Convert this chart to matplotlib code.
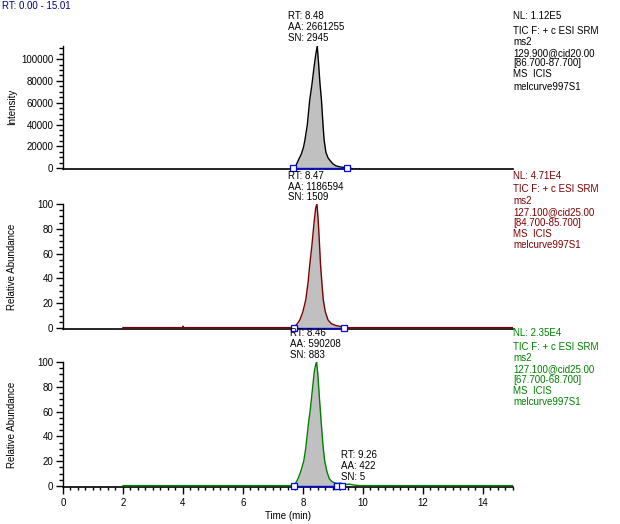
import matplotlib
matplotlib.use("Agg")
import matplotlib.pyplot as plt
from matplotlib.ticker import MultipleLocator, NullLocator
import numpy as np

plt.rcParams['font.family'] = ['Liberation Sans', 'DejaVu Sans']
FS = 7

# ---------------- data ----------------
x_range = (0.0, 15.01)

# panel 1 (absolute intensity)
t1 = [7.60, 7.70, 7.78, 7.85, 7.95, 8.02, 8.07, 8.15, 8.23, 8.30, 8.38, 8.43, 8.48,
      8.52, 8.57, 8.62, 8.67, 8.71, 8.77, 8.84, 8.90, 9.00, 9.10, 9.25, 9.45, 9.60]
i1 = [0, 800, 3000, 7300, 13000, 19000, 25800, 40000, 62700, 76000, 94000, 104000, 112000,
      98000, 78000, 62700, 41000, 25800, 14500, 9500, 7300, 4000, 2200, 1100, 500, 0]
tail1_t = [9.50, 9.90]
tail1_i = [300, 300]
base1 = [(7.66, 9.46)]
nl1 = 112000

# panel 2 (relative abundance)
t2 = [2.0, 3.99, 4.0, 4.01, 7.60, 7.72, 7.80, 7.90, 8.00, 8.10, 8.18, 8.23, 8.30, 8.37,
      8.43, 8.47, 8.51, 8.55, 8.59, 8.64, 8.68, 8.75, 8.84, 8.95, 9.10, 9.30, 9.45, 15.0]
r2 = [0.3, 0.3, 1.5, 0.3, 0.3, 1, 3, 6.5, 13, 23, 38, 51, 66, 84,
      97, 100, 88, 70, 51, 35, 23, 13, 6.5, 3.5, 2, 1, 0.3, 0.3]
base2 = [(7.71, 9.38)]

# panel 3 (relative abundance)
t3 = [2.0, 7.60, 7.70, 7.78, 7.84, 7.92, 8.03, 8.10, 8.18, 8.25, 8.32, 8.38, 8.43, 8.46,
      8.50, 8.55, 8.62, 8.67, 8.73, 8.80, 8.88, 8.95, 9.05, 9.15, 9.26, 9.40, 9.55, 9.70,
      9.90, 15.0]
r3 = [0.3, 0.3, 1, 3, 6, 11, 20, 31, 49, 62, 78, 92, 98, 100,
      90, 72, 49, 33, 20, 12, 6, 4, 2.5, 2, 2.3, 1.2, 1.5, 0.8,
      0.3, 0.3]
base3 = [(7.71, 9.15), (9.15, 9.29)]

peak_labels = [
    ["RT: 8.48", "AA: 2661255", "SN: 2945"],
    ["RT: 8.47", "AA: 1186594", "SN: 1509"],
    ["RT: 8.46", "AA: 590208", "SN: 883"],
]
small_peak_label = ["RT: 9.26", "AA: 422", "SN: 5"]

info_texts = [
    ["NL: 1.12E5", "TIC F: + c ESI SRM", "ms2", "129.900@cid20.00", "[86.700-87.700]",
     "MS  ICIS", "melcurve997S1"],
    ["NL: 4.71E4", "TIC F: + c ESI SRM", "ms2", "127.100@cid25.00", "[84.700-85.700]",
     "MS  ICIS", "melcurve997S1"],
    ["NL: 2.35E4", "TIC F: + c ESI SRM", "ms2", "127.100@cid25.00", "[67.700-68.700]",
     "MS  ICIS", "melcurve997S1"],
]
colors = ["black", "#800000", "#008000"]
ylabels = ["Intensity", "Relative Abundance", "Relative Abundance"]

# ---------------- figure ----------------
W, H = 620, 524
fig = plt.figure(figsize=(W / 100, H / 100), dpi=100)

def px(x, y):
    return x / W, 1 - y / H

def ax_rect(top, bottom):
    return [63 / W, 1 - bottom / H, 450 / W, (bottom - top) / H]

ax1 = fig.add_axes(ax_rect(46, 168.5))
ax2 = fig.add_axes(ax_rect(204, 329))
ax3 = fig.add_axes(ax_rect(362, 487))
axes = [ax1, ax2, ax3]

traces = [(t1, i1, base1), (t2, r2, base2), (t3, r3, base3)]

for k, (ax, (t, y, bases)) in enumerate(zip(axes, traces)):
    t = np.asarray(t, float)
    y = np.asarray(y, float)
    col = colors[k]
    for (a, b) in bases:
        m = (t >= a) & (t <= b)
        tt = np.concatenate([[a], t[m], [b]])
        yy = np.interp(tt, t, y)
        ax.fill_between(tt, 0, yy, color="#c0c0c0", lw=0, zorder=1)
    ax.plot(t, y, color=col, lw=1.0, zorder=3)
    for (a, b) in bases:
        ax.plot([a, b], [0, 0], color="#0000ff", lw=1.0, zorder=4, clip_on=False)
        ax.plot([a, b], [0, 0], ls="none", marker="s", ms=4.5, mfc="white",
                mec="#0000ff", mew=0.9, zorder=5, clip_on=False)
    ax.set_xlim(*x_range)
    for s in ["top", "right"]:
        ax.spines[s].set_visible(False)
    ax.spines["left"].set_linewidth(1.0)
    ax.spines["bottom"].set_linewidth(1.2)
    ax.tick_params(axis="y", which="major", direction="out", length=5, width=1,
                   labelsize=FS, pad=2)
    ax.tick_params(axis="y", which="minor", direction="out", length=3, width=1)
    ax.set_ylabel(ylabels[k], fontsize=FS)
    ax.yaxis.set_label_coords(-46 / 450, 0.5)

ax1.plot(tail1_t, tail1_i, color="black", lw=0.8, ls=(0, (1, 2)), zorder=3)

ax1.set_ylim(-300, nl1)
ax1.yaxis.set_major_locator(MultipleLocator(20000))
ax1.yaxis.set_minor_locator(MultipleLocator(5000))
for ax in (ax2, ax3):
    ax.set_ylim(-0.8, 100)
    ax.yaxis.set_major_locator(MultipleLocator(20))
    ax.yaxis.set_minor_locator(MultipleLocator(5))

for ax in (ax1, ax2):
    ax.xaxis.set_major_locator(NullLocator())
    ax.xaxis.set_minor_locator(NullLocator())

ax3.xaxis.set_major_locator(MultipleLocator(2))
ax3.xaxis.set_minor_locator(MultipleLocator(0.25))
ax3.tick_params(axis="x", which="major", direction="out", length=5, width=1,
                labelsize=FS, pad=3)
ax3.tick_params(axis="x", which="minor", direction="out", length=2.5, width=1)
ax3.set_xlabel("Time (min)", fontsize=FS, labelpad=2)

# ---------------- texts ----------------
fig.text(*px(2, 6), "RT: 0.00 - 15.01", fontsize=FS, color="#000080", va="center", ha="left")

peak_text_pos = [(287.7, [16, 27, 38]), (287.7, [175.7, 186.7, 197.3]), (290, [333.3, 344, 355])]
for k, (x0, ys) in enumerate(peak_text_pos):
    for line, yy in zip(peak_labels[k], ys):
        fig.text(*px(x0, yy), line, fontsize=FS, color="black", va="center", ha="left")

for line, yy in zip(small_peak_label, [455, 466, 477]):
    fig.text(*px(340.7, yy), line, fontsize=FS, color="black", va="center", ha="left")

info_pos = [
    [16, 31, 41.7, 52.7, 63.3, 74, 86.5],
    [175.7, 189, 201, 211.7, 222.7, 233.7, 244.7],
    [333.3, 346.7, 357.7, 369, 380, 391, 402],
]
for k in range(3):
    for line, yy in zip(info_texts[k], info_pos[k]):
        fig.text(*px(513, yy), line, fontsize=FS, color=colors[k], va="center", ha="left")

fig.savefig("out.png", dpi=100)
